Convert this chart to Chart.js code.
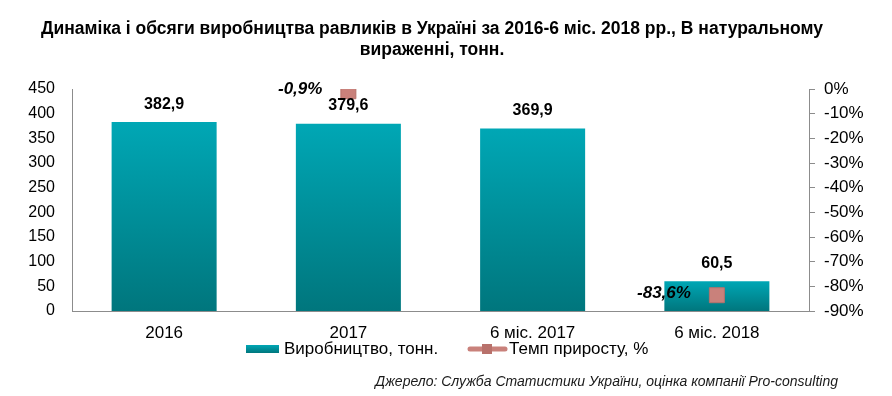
<!DOCTYPE html>
<html>
<head>
<meta charset="utf-8">
<script src="https://cdn.jsdelivr.net/npm/chart.js@4"></script>
<style>
  html, body { margin: 0; padding: 0; background: #fff; }
  #wrap { width: 892px; height: 396px; position: relative; }
</style>
</head>
<body>
<div id="wrap"><canvas id="chart" width="892" height="396"></canvas></div>
<script>
// дані з графіка
const categories = ['2016', '2017', '6 міс. 2017', '6 міс. 2018'];
const production = [382.9, 379.6, 369.9, 60.5];
const growth = [null, -0.9, null, -83.6];
const leftTicks = [0, 50, 100, 150, 200, 250, 300, 350, 400, 450];
const rightTicks = [0, -10, -20, -30, -40, -50, -60, -70, -80, -90];

const titleLines = ['Динаміка і обсяги виробництва равликів в Україні за 2016-6 міс. 2018 рр., В натуральному', 'вираженні, тонн.'];
const legendLabels = ['Виробництво, тонн.', 'Темп приросту, %'];
const sourceText = 'Джерело: Служба Статистики України, оцінка компанії Pro-consulting';

const FONT = '"Liberation Sans", Arial, sans-serif';
const TEAL_TOP = '#00a7b5';
const TEAL_BOTTOM = '#00767d';
const MARKER = '#c9817b';

function fmt(v) {
    return v.toFixed(1).replace('.', ',');
}

function barGradient(ctx, top, bottom) {
    const g = ctx.createLinearGradient(0, top, 0, bottom);
    g.addColorStop(0, TEAL_TOP);
    g.addColorStop(1, TEAL_BOTTOM);
    return g;
}

// підписи, заголовок, легенда і джерело
const extras = {
    id: 'extras',
    afterDatasetsDraw(chart) {
        const ctx = chart.ctx;
        ctx.save();
        ctx.fillStyle = '#000';
        ctx.textAlign = 'center';
        ctx.textBaseline = 'middle';

        // значення над стовпцями
        ctx.font = 'bold 16px ' + FONT;
        chart.getDatasetMeta(0).data.forEach((bar, i) => {
            ctx.fillText(fmt(production[i]), bar.x, bar.y - 18);
        });

        // темп приросту
        ctx.font = 'italic bold 17px ' + FONT;
        ctx.textAlign = 'right';
        chart.getDatasetMeta(1).data.forEach((pt, i) => {
            if (growth[i] === null) return;
            ctx.fillText(fmt(growth[i]) + '%', pt.x - 26, pt.y - 2);
        });

        // заголовок
        ctx.textAlign = 'center';
        ctx.font = 'bold 17.5px ' + FONT;
        ctx.fillText(titleLines[0], 432, 29);
        ctx.fillText(titleLines[1], 432, 50);

        // легенда
        ctx.fillStyle = barGradient(ctx, 345, 353);
        ctx.fillRect(246, 345, 33, 8);
        ctx.fillStyle = '#000';
        ctx.font = '17px ' + FONT;
        ctx.textAlign = 'left';
        ctx.fillText(legendLabels[0], 284, 349);

        ctx.strokeStyle = MARKER;
        ctx.lineWidth = 5;
        ctx.lineCap = 'round';
        ctx.beginPath();
        ctx.moveTo(470, 349);
        ctx.lineTo(505, 349);
        ctx.stroke();
        ctx.fillStyle = '#b8716b';
        ctx.fillRect(482, 344, 10, 10);
        ctx.fillStyle = '#000';
        ctx.fillText(legendLabels[1], 509, 349);

        // джерело
        ctx.font = 'italic 14px ' + FONT;
        ctx.textAlign = 'right';
        ctx.fillStyle = '#1a1a1a';
        ctx.fillText(sourceText, 838, 382);
        ctx.restore();
    }
};

const canvas = document.getElementById('chart');
new Chart(canvas, {
    type: 'bar',
    data: {
        labels: categories,
        datasets: [{
            type: 'bar',
            label: legendLabels[0],
            data: production,
            yAxisID: 'y',
            backgroundColor(c) {
                const chart = c.chart;
                if (!chart.chartArea || c.raw === undefined) return TEAL_TOP;
                const top = chart.scales.y.getPixelForValue(c.raw);
                return barGradient(chart.ctx, top, chart.scales.y.getPixelForValue(0));
            },
            borderWidth: 0,
            categoryPercentage: 1,
            barPercentage: 0.57,
            order: 2
        }, {
            type: 'line',
            label: legendLabels[1],
            data: growth,
            yAxisID: 'y1',
            showLine: false,
            pointStyle: 'rect',
            pointRadius: 10.6,
            pointHoverRadius: 10.6,
            pointBackgroundColor: MARKER,
            pointBorderColor: '#b5716b',
            pointBorderWidth: 1,
            order: 1
        }]
    },
    options: {
        responsive: false,
        animation: false,
        devicePixelRatio: 1,
        layout: { padding: { top: 89, right: 0, left: 0, bottom: 0 } },
        plugins: {
            legend: { display: false },
            title: { display: false },
            tooltip: { enabled: false }
        },
        scales: {
            x: {
                grid: { display: false, drawTicks: false },
                border: { display: true, color: '#8c8c8c', width: 1 },
                ticks: { color: '#000', font: { family: FONT, size: 17 }, padding: 12, maxRotation: 0 },
                afterFit(s) { s.height = 85; }
            },
            y: {
                position: 'left',
                min: 0,
                max: 450,
                grid: { display: false, drawTicks: false },
                border: { display: true, color: '#8c8c8c', width: 1 },
                afterBuildTicks(s) { s.ticks = leftTicks.map(v => ({ value: v })); },
                ticks: { color: '#000', font: { family: FONT, size: 16 }, padding: 17 },
                afterFit(s) { s.width = 72; }
            },
            y1: {
                position: 'right',
                min: -90,
                max: 0,
                grid: { drawOnChartArea: false, drawTicks: true, tickLength: 6, color: '#8c8c8c' },
                border: { display: true, color: '#8c8c8c', width: 1 },
                afterBuildTicks(s) { s.ticks = rightTicks.map(v => ({ value: v })); },
                ticks: { color: '#000', font: { family: FONT, size: 17 }, padding: 9, callback: v => v + '%' },
                afterFit(s) { s.width = 83; }
            }
        }
    },
    plugins: [extras]
});
</script>
</body>
</html>
